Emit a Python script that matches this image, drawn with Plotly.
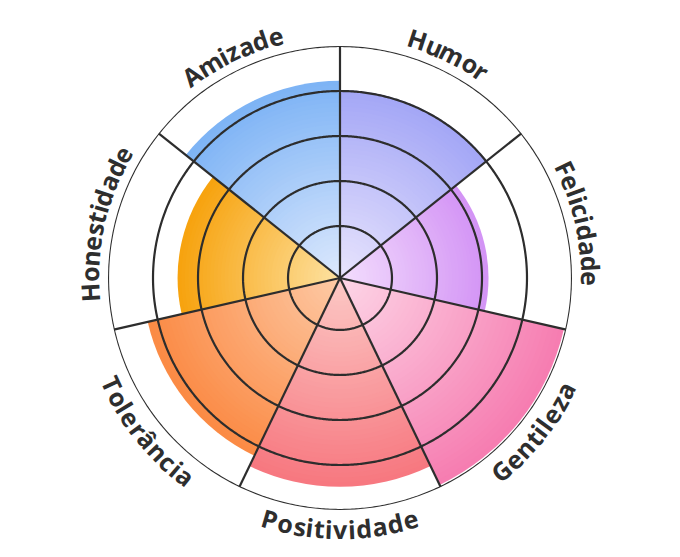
import math
import plotly.graph_objects as go

# ---------------- data ----------------
categories = ["Humor", "Felicidade", "Gentileza", "Positividade",
              "Tolerância", "Honestidade", "Amizade"]
values = [81, 64, 99, 90, 85, 70, 85]          # 0–100 scale, outer circle = 100
outer_colors = ["#a3a6f6", "#d393f5", "#f67cb0", "#f7777f",
                "#fb8a44", "#f7a20d", "#7db3f5"]
inner_colors = ["#e9e5fd", "#f3defd", "#fdd6e7", "#fcc9c6",
                "#fdcaa6", "#fde2a2", "#dde9fd"]
ring_levels = [22.4, 41.8, 61.2, 80.6, 100]
r_max = 100

# ---------------- helpers ----------------
def hex2rgb(h):
    h = h.lstrip("#")
    return tuple(int(h[i:i + 2], 16) for i in (0, 2, 4))

def lerp(c1, c2, t):
    a, b = hex2rgb(c1), hex2rgb(c2)
    return "rgb(%d,%d,%d)" % tuple(round(a[i] + (b[i] - a[i]) * t) for i in range(3))

n = len(categories)
sector = 360.0 / n
theta_c = [sector * (i + 0.5) for i in range(n)]
line_col = "#2d2d2d"

fig = go.Figure()

# gradient bars: layered copies of each bar, largest first
N = 45
for k in range(N):
    f = 1 - k / N
    fig.add_trace(go.Barpolar(
        r=[v * f for v in values],
        theta=theta_c,
        width=[sector] * n,
        marker=dict(color=[lerp(inner_colors[i], outer_colors[i], f - 0.5 / N)
                           for i in range(n)],
                    line=dict(width=0)),
        hoverinfo="skip", showlegend=False,
    ))

# ring grid lines (drawn above the bars)
circ_theta = [i * 0.5 for i in range(721)]
for lv in ring_levels:
    fig.add_trace(go.Scatterpolar(
        r=[lv] * len(circ_theta), theta=circ_theta, mode="lines",
        line=dict(color=line_col, width=2.2), hoverinfo="skip", showlegend=False))

# sector spokes
for i in range(n):
    fig.add_trace(go.Scatterpolar(
        r=[0, r_max], theta=[sector * i, sector * i], mode="lines",
        line=dict(color=line_col, width=2.2), hoverinfo="skip", showlegend=False))

# ---------------- curved labels ----------------
# Open Sans Bold advance widths (em)
W = {"A": .683, "F": .56, "G": .725, "H": .778, "P": .629, "T": .57,
     "a": .596, "â": .596, "c": .507, "d": .617, "e": .587, "i": .293,
     "l": .293, "m": .935, "n": .635, "o": .604, "r": .445, "s": .491,
     "t": .423, "u": .635, "v": .565, "z": .486}
fs = 25
spacing = 0.6
R_px = 251.0
R_plot = 232.0
R_paper = 0.5 * R_px / R_plot
outward = [True, True, False, False, False, True, True]

annotations = []
for i, lab in enumerate(categories):
    widths = [W.get(ch, .6) * fs + spacing for ch in lab]
    total = sum(widths) - spacing
    ang_total = total / R_px
    phic = math.radians(theta_c[i])
    cum = 0.0
    for ch, w in zip(lab, widths):
        cw = w - spacing
        off = (cum + cw / 2) / R_px - ang_total / 2
        if outward[i]:
            phi = phic + off
            rot = math.degrees(phi)
        else:
            phi = phic - off
            rot = math.degrees(phi) - 180
        cum += w
        x = 0.5 + R_paper * math.sin(phi)
        y = 0.5 + R_paper * math.cos(phi)
        rot = (rot + 180) % 360 - 180
        annotations.append(dict(
            x=x, y=y, xref="paper", yref="paper", text=ch, showarrow=False,
            xanchor="center", yanchor="middle", textangle=rot,
            font=dict(family="Open Sans", size=fs, color="#2e2e2e", weight="bold")))

fig.update_layout(
    width=680, height=557,
    margin=dict(l=100, r=116, t=38, b=55),
    paper_bgcolor="white",
    showlegend=False,
    hovermode=False,
    annotations=annotations,
    polar=dict(
        bgcolor="white",
        barmode="overlay",
        domain=dict(x=[0, 1], y=[0, 1]),
        radialaxis=dict(range=[0, r_max], showgrid=False, showticklabels=False,
                        showline=False, ticks=""),
        angularaxis=dict(direction="clockwise", rotation=90, showgrid=False,
                         showticklabels=False, showline=False, ticks=""),
    ),
)

fig.write_html("out.html")
